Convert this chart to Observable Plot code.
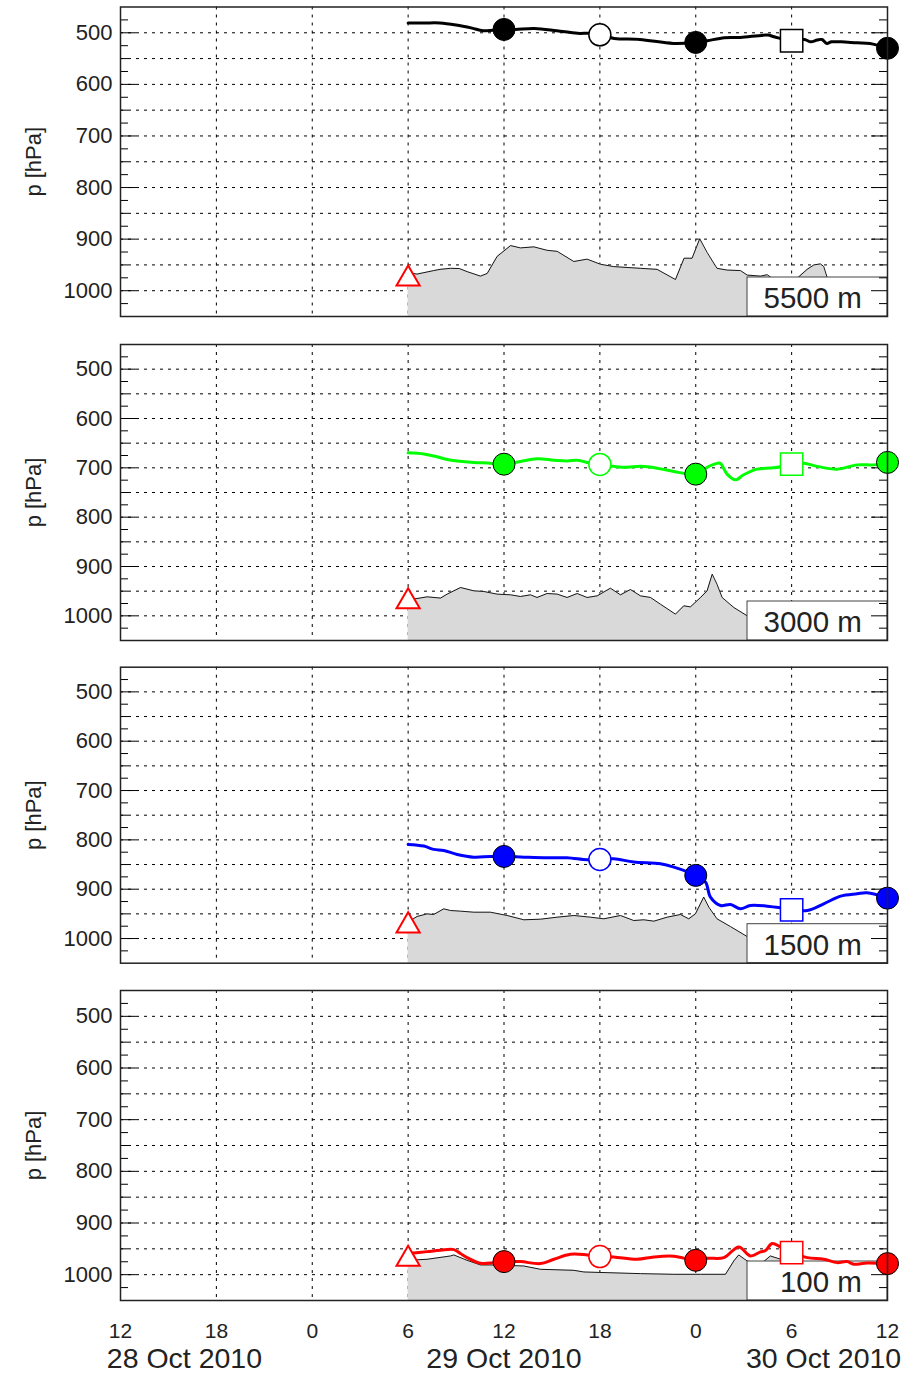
<!DOCTYPE html>
<html>
<head>
<meta charset="utf-8">
<script src="https://cdn.jsdelivr.net/npm/d3@7"></script>
<script src="https://cdn.jsdelivr.net/npm/@observablehq/plot@0.6"></script>
<style>
  html, body { margin: 0; padding: 0; background: #fff; }
  #chart svg { display: block; }
</style>
</head>
<body>
<div id="chart"></div>
<script>
// ---- axis / label data ----
const tickHours = [0, 6, 12, 18, 24, 30, 36, 42, 48];
const tickLabels = ["12", "18", "0", "6", "12", "18", "0", "6", "12"];
const dateLabels = ["28 Oct 2010", "29 Oct 2010", "30 Oct 2010"];
const dateHours = [4, 24, 44];
const majorP = [500, 600, 700, 800, 900, 1000];
const gridP = [500, 550, 600, 650, 700, 750, 800, 850, 900, 950, 1000];
const minorP = [475, 525, 550, 575, 625, 650, 675, 725, 750, 775, 825, 850, 875, 925, 950, 975, 1025];
const gridHours = [6, 12, 18, 24, 30, 36, 42];
const levelLabels = ["5500 m", "3000 m", "1500 m", "100 m"];
const levelColors = ["#000000", "#00ff00", "#0000ff", "#ff0000"];

// ---- markers ----
const markerHours = [24, 30, 36, 42, 48];
const markerKinds = ["filled", "open", "filled", "square", "filled"];
const markerP5500 = [493.5, 504, 518.7, 515.5, 530];
const markerP3000 = [692.6, 693, 712.8, 692.6, 689];
const markerP1500 = [833.6, 839.7, 872, 941.8, 918.1];
const markerP100  = [974.7, 965, 972.2, 957.3, 978.6];
const startHour = 18;
const startP = [977, 971, 974, 970];

// ---- trajectories (hours since 28 Oct 12 UTC, pressure hPa) ----
const traj5500H = [18, 19, 20, 21, 22, 22.7, 24, 24.7, 25.9, 27.3, 28.6, 29.4, 30, 30.9, 32.5, 34.6, 36, 36.7, 37.8, 38.8, 40.5, 40.9, 42, 42.8, 43.2, 43.6, 43.9, 44.2, 44.5, 45.1, 46.1, 46.9, 48];
const traj5500P = [481, 481, 481, 485, 491, 496, 493.5, 493.5, 491.5, 496, 501, 501, 504, 511, 513, 520.6, 518.7, 515.5, 509.6, 509, 504.5, 507.7, 515.5, 513, 517.5, 514, 513, 520.6, 517.5, 517.5, 519.4, 520.6, 530];

const traj3000H = [18, 18.98, 19.6, 20.44, 21.07, 22.11, 23.15, 24, 25.03, 26.07, 27.12, 27.95, 28.58, 29.2, 30, 30.87, 31.71, 32.54, 33.58, 34.63, 36, 36.71, 37.33, 37.54, 37.96, 38.49, 39.0, 39.84, 40.88, 42, 42.76, 43.6, 44.85, 46.1, 47.14, 48];
const traj3000P = [669.6, 672, 676, 683, 686, 689, 690.5, 692.6, 687, 681.8, 684.5, 686, 684.5, 689, 693, 697, 699, 697, 700.7, 707.4, 712.8, 699, 691, 691, 712.8, 724.3, 714, 702.7, 700, 692.6, 690.5, 697, 702.7, 694, 694, 689];

const traj1500H = [18, 18.98, 19.6, 20.23, 21.07, 22.11, 23.15, 24, 25.24, 26.7, 27.95, 29.2, 30, 30.87, 32.12, 33.79, 34.63, 36, 36.61, 36.92, 37.55, 38.17, 38.8, 39.42, 40.47, 41.3, 42, 42.98, 44.01, 45.06, 46.1, 46.72, 48];
const traj1500P = [809.2, 812.6, 819.3, 821.4, 829.5, 835, 833.6, 833.6, 835, 836.3, 836.3, 840.3, 839.7, 838.3, 845, 848.4, 855.2, 872, 885.6, 916, 933, 931, 939.8, 933, 934.4, 937.8, 941.8, 943.2, 929.6, 914, 909.3, 907.3, 918.1];

const traj100H = [18, 19.19, 20.03, 20.86, 21.27, 21.69, 22.53, 23.36, 24, 25.03, 26.28, 27.12, 28.16, 29.2, 30, 30.87, 32.33, 33.38, 34.63, 36, 36.71, 37.76, 38.69, 39.42, 40.05, 40.36, 40.78, 41.3, 42, 42.97, 44.01, 44.85, 45.47, 45.89, 46.72, 48];
const traj100P = [959.2, 955.4, 952.8, 951.5, 959, 967, 978, 976.7, 974.7, 974.7, 978.6, 970.2, 960.5, 961.8, 965, 965.7, 970.2, 965.7, 964.4, 972.2, 968.3, 967, 946.3, 963.8, 956, 953.3, 939.8, 946.3, 957.3, 967, 970.2, 976.7, 974.7, 979.9, 977.3, 978.6];

// ---- surface pressure below the trajectories ----
const terr5500H = [18, 18.56, 19.6, 20.0, 20.65, 21.2, 21.69, 22.53, 22.95, 23.57, 24.41, 25.03, 25.87, 26.7, 27.33, 28.37, 29.2, 30.04, 30.87, 32.54, 33.58, 34.73, 35.27, 35.77, 36.25, 36.71, 37.33, 37.96, 38.8, 39.22, 40.05, 40.47, 41.2, 42.0, 42.45, 42.97, 43.39, 43.8, 44.01, 44.22, 45, 46, 47, 48];
const terr5500P = [965, 967.8, 961, 958.6, 956.6, 957, 963, 971.7, 966.5, 933.5, 912.5, 917, 915, 921.7, 923.7, 943.4, 938.8, 948.7, 953.3, 956.6, 958.6, 978.3, 937, 937, 899.3, 925.7, 956.6, 960, 961, 969.7, 971.7, 969, 985, 982, 973, 958.6, 950, 948, 953, 974, 990, 995, 995, 1000];

const terr3000H = [18, 18.36, 19.19, 20.03, 20.44, 21.28, 22.11, 22.74, 23.57, 24.41, 25.03, 25.66, 26.07, 26.7, 27.33, 27.95, 28.58, 29.2, 29.83, 30.66, 31.29, 31.91, 32.54, 33.17, 33.79, 34.73, 35.25, 35.67, 36.3, 36.71, 37.03, 37.33, 37.65, 38.38, 39.22, 40, 42, 44, 46, 48];
const terr3000P = [967, 966, 961.5, 964, 956, 942.6, 949.3, 950.7, 956, 957.4, 960.8, 957.4, 962.8, 954.7, 956, 962.8, 954.7, 962.8, 959.5, 944, 957.4, 946.6, 959.5, 962.8, 976.4, 996.6, 979.7, 981.8, 962.8, 949.3, 915.5, 935.8, 962.8, 983, 1000, 1005, 1010, 1010, 1012, 1015];

const terr1500H = [18, 18.56, 19.19, 19.6, 20.23, 20.65, 21.27, 22.11, 23.15, 24.2, 25.24, 26.28, 27.33, 28.37, 29.41, 30.25, 31.29, 32.12, 32.75, 33.38, 34.21, 35.04, 35.56, 35.98, 36.5, 36.82, 37.33, 38.17, 39.22, 40, 42, 44, 46, 48];
const terr1500P = [966.8, 955.3, 950, 951.3, 939.8, 943.2, 944.5, 946.6, 946.6, 953.3, 962, 960.8, 956.7, 953.3, 956.7, 960, 953.3, 963.5, 962, 964.8, 956.7, 951.3, 960, 950, 916, 936.4, 960, 975.7, 996, 1005, 1010, 1012, 1015, 1015];

const terr100H = [18, 19.19, 20.65, 20.86, 21.69, 22.53, 23.36, 25.24, 26.28, 28.37, 29, 30.45, 32.54, 34.63, 36.29, 37.86, 38.38, 38.69, 39.22, 40.05, 40.67, 41.3, 42.13, 44, 46, 48];
const terr100P = [972.2, 970.2, 963.8, 961.8, 972.2, 981.2, 981.2, 983.2, 989.6, 991.6, 994.8, 996.1, 998, 999.3, 999.3, 999.3, 973.5, 961.8, 973.5, 980, 963.8, 970, 985, 990, 995, 995];

// ---- panel layout ----
const panels = [
  {trajH: traj5500H, trajP: traj5500P, terrH: terr5500H, terrP: terr5500P, markP: markerP5500, height: 330, marginTop: 6.5, marginBottom: 14},
  {trajH: traj3000H, trajP: traj3000P, terrH: terr3000H, terrP: terr3000P, markP: markerP3000, height: 323, marginTop: 14, marginBottom: 13},
  {trajH: traj1500H, trajP: traj1500P, terrH: terr1500H, terrP: terr1500P, markP: markerP1500, height: 323, marginTop: 13.7, marginBottom: 13.3},
  {trajH: traj100H, trajP: traj100P, terrH: terr100H, terrP: terr100P, markP: markerP100, height: 398, marginTop: 14, marginBottom: 74}
];

const FONT = "'Liberation Sans', Arial, Helvetica, sans-serif";
const TXT = "#222";
const container = document.getElementById("chart");

panels.forEach((pn, i) => {
  const color = levelColors[i];
  const traj = pn.trajH.map((h, k) => ({h, p: pn.trajP[k]}));
  const terr = pn.terrH.map((h, k) => ({h, p: pn.terrP[k]}));
  const marks = markerHours.map((h, k) => ({h, p: pn.markP[k], kind: markerKinds[k]}));
  const frameH = pn.height - pn.marginTop - pn.marginBottom;
  const boxTop = 1050 - 39 * 600 / frameH;
  const last = i === panels.length - 1;

  const markList = [
    Plot.ruleY(gridP, {stroke: "black", strokeWidth: 1, strokeDasharray: "3,5"}),
    Plot.ruleX(gridHours, {stroke: "black", strokeWidth: 1, strokeDasharray: "3,5"}),
    Plot.areaY(terr, {x: "h", y1: () => 1050, y2: "p", fill: "#d9d9d9"}),
    Plot.lineY(terr, {x: "h", y: "p", stroke: "black", strokeWidth: 0.9}),
    Plot.rect([0], {x1: () => 39.24, x2: () => 48, y1: () => 1050, y2: () => boxTop, fill: "white", stroke: "#444", strokeWidth: 1}),
    Plot.text([{h: 46.4, t: levelLabels[i]}], {x: "h", text: "t", frameAnchor: "bottom", dy: -18, textAnchor: "end", lineAnchor: "middle", fontSize: 29.5, fill: TXT}),
    // y ticks (left and right)
    Plot.ruleY(majorP, {x1: () => 0, x2: () => 1, stroke: "black", strokeWidth: 1}),
    Plot.ruleY(minorP, {x1: () => 0, x2: () => 0.5, stroke: "black", strokeWidth: 1}),
    Plot.ruleY(majorP, {x1: () => 47, x2: () => 48, stroke: "black", strokeWidth: 1}),
    Plot.ruleY(minorP, {x1: () => 47.5, x2: () => 48, stroke: "black", strokeWidth: 1}),
    Plot.axisY({ticks: majorP, tickFormat: d => String(d), tickSize: 0, tickPadding: 8, fontSize: 22, label: null, fill: TXT}),
    Plot.text(["p [hPa]"], {frameAnchor: "left", dx: -87, rotate: -90, textAnchor: "middle", lineAnchor: "middle", fontSize: 22, fill: TXT}),
    // trajectory
    Plot.line(traj, {x: "h", y: "p", stroke: color, strokeWidth: 3, curve: "catmull-rom"}),
    Plot.dot(marks.filter(d => d.kind === "filled"), {x: "h", y: "p", r: 11, fill: color, stroke: "black", strokeWidth: 1}),
    Plot.dot(marks.filter(d => d.kind === "open"), {x: "h", y: "p", r: 11, fill: "white", stroke: color, strokeWidth: 1.5}),
    Plot.dot(marks.filter(d => d.kind === "square"), {x: "h", y: "p", r: 12.6, symbol: "square", fill: "white", stroke: color, strokeWidth: 1.5}),
    Plot.dot([{h: startHour, p: startP[i]}], {x: "h", y: "p", r: 8.6, symbol: "triangle", fill: "white", stroke: "#ff0000", strokeWidth: 2}),
    Plot.frame({stroke: "#222", strokeWidth: 1.5})
  ];
  if (last) {
    markList.push(
      Plot.axisX({ticks: tickHours, tickFormat: (d, k) => tickLabels[k], tickSize: 0, tickPadding: 23, fontSize: 21, label: null, fill: TXT}),
      Plot.text(dateLabels.map((t, k) => ({t, h: dateHours[k]})), {x: "h", text: "t", frameAnchor: "bottom", dy: 58, lineAnchor: "middle", fontSize: 28.5, fill: TXT})
    );
  }

  const chart = Plot.plot({
    width: 921,
    height: pn.height,
    marginLeft: 120,
    marginRight: 34,
    marginTop: pn.marginTop,
    marginBottom: pn.marginBottom,
    style: {fontFamily: FONT, background: "white", overflow: "visible"},
    x: {domain: [0, 48], axis: null},
    y: {domain: [450, 1050], reverse: true, axis: null},
    marks: markList
  });
  container.appendChild(chart);
});
</script>
</body>
</html>
